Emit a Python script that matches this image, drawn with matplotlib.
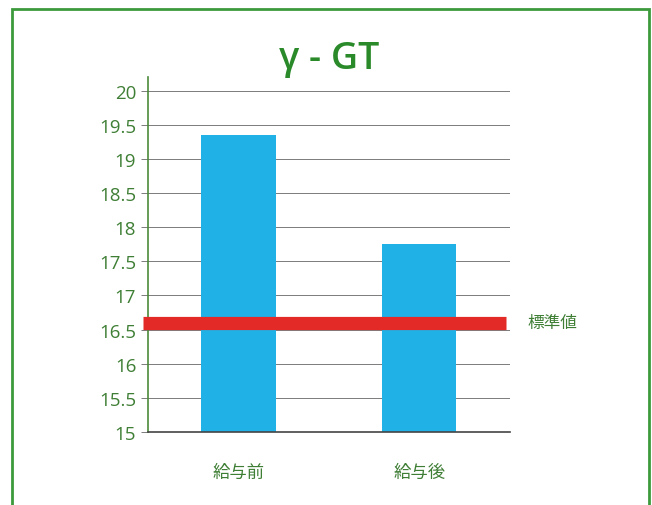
import matplotlib.pyplot as plt
import matplotlib.patches as patches

### DATA ###
categories = ['給与前', '給与後']
values = [19.35, 17.75]
standard_value = 16.6
standard_label = '標準値'
y_ticks = [15, 15.5, 16, 16.5, 17, 17.5, 18, 18.5, 19, 19.5, 20]
y_tick_labels = ['15', '15.5', '16', '16.5', '17', '17.5', '18', '18.5', '19', '19.5', '20']
title = 'γ - GT'  # spaced out like the original

green_text = '#3f7f35'
green_frame = '#3c9a3c'

plt.rcParams['font.family'] = ['Open Sans', 'Noto Sans CJK JP', 'DejaVu Sans']

fig = plt.figure(figsize=(6.52, 5.06), dpi=100)
ax = fig.add_axes([0.227, 0.1443, 0.555, 0.7016])

# outer green frame (bottom edge runs off the page)
frame = patches.Rectangle((0.018, -0.02), 0.978, 1.0, transform=fig.transFigure,
                          fill=False, edgecolor=green_frame, linewidth=2)
fig.patches.append(frame)

x = range(len(categories))
ax.bar(x, values, width=0.41, color='#20b1e6', zorder=2)

# standard value line
ax.axhline(standard_value, xmin=-0.015, xmax=0.99, color='#e32a26', linewidth=9.5,
           solid_capstyle='butt', clip_on=False, zorder=3)
ax.text(1.6, standard_value, standard_label, color=green_text, fontsize=12,
        va='center', ha='left', family=['Noto Sans CJK JP', 'DejaVu Sans'])

ax.set_xlim(-0.5, 1.5)
ax.set_ylim(15, 20.2)
ax.set_yticks(y_ticks)
ax.set_yticklabels(y_tick_labels)
ax.set_xticks(list(x))
ax.set_xticklabels(categories, family=['Noto Sans CJK JP', 'DejaVu Sans'])

ax.yaxis.grid(True, color='#666666', linewidth=0.6, zorder=0)
ax.set_axisbelow(True)

for s in ['top', 'right']:
    ax.spines[s].set_visible(False)
ax.spines['left'].set_color('#4a8a3a')
ax.spines['left'].set_linewidth(1.2)
ax.spines['bottom'].set_color('#444444')
ax.spines['bottom'].set_linewidth(1.2)

ax.tick_params(axis='y', colors='#666666', labelcolor=green_text, labelsize=13.5, length=5, width=0.6)
ax.tick_params(axis='x', length=0, labelcolor=green_text, labelsize=12.5, pad=22)

fig.text(0.505, 0.883, title, ha='center', va='center', fontsize=27,
         color='#2a8a2a', fontweight='semibold')

plt.savefig('out.png', dpi=100)
